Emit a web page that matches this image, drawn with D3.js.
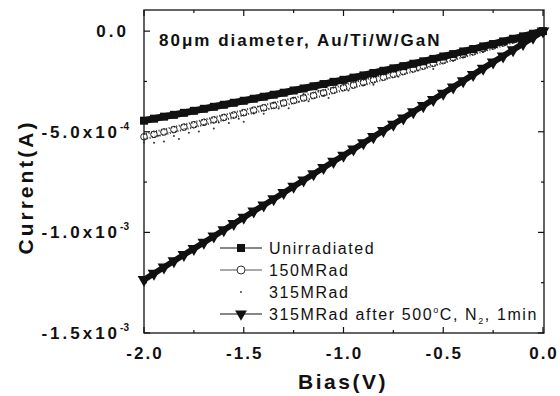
<!DOCTYPE html>
<html>
<head>
<meta charset="utf-8">
<script src="https://cdn.jsdelivr.net/npm/d3@7"></script>
<style>
  body { margin: 0; background: #fff; }
  text { font-family: "Liberation Sans", Arial, sans-serif; fill: #111; }
</style>
</head>
<body>
<div id="chart"></div>
<script>
// Bias grid (V) for the three marker series
const bias = [-2.00, -1.95, -1.90, -1.85, -1.80, -1.75, -1.70, -1.65, -1.60, -1.55,
  -1.50, -1.45, -1.40, -1.35, -1.30, -1.25, -1.20, -1.15, -1.10, -1.05,
  -1.00, -0.95, -0.90, -0.85, -0.80, -0.75, -0.70, -0.65, -0.60, -0.55,
  -0.50, -0.45, -0.40, -0.35, -0.30, -0.25, -0.20, -0.15, -0.10, -0.05, 0.00];

// Current in units of 1e-4 A
const unirradiated = [-4.45, -4.35, -4.25, -4.16, -4.06, -3.96, -3.86, -3.76, -3.66, -3.56,
  -3.46, -3.36, -3.26, -3.16, -3.06, -2.95, -2.85, -2.74, -2.63, -2.52,
  -2.42, -2.31, -2.20, -2.08, -1.97, -1.85, -1.74, -1.62, -1.50, -1.38,
  -1.26, -1.14, -1.01, -0.89, -0.76, -0.64, -0.51, -0.38, -0.26, -0.13, 0.00];

const mrad150 = [-5.25, -5.13, -5.01, -4.89, -4.77, -4.65, -4.53, -4.41, -4.29, -4.17,
  -4.05, -3.93, -3.81, -3.69, -3.57, -3.45, -3.32, -3.20, -3.07, -2.94,
  -2.81, -2.68, -2.55, -2.42, -2.29, -2.15, -2.01, -1.88, -1.74, -1.60,
  -1.46, -1.32, -1.17, -1.03, -0.88, -0.74, -0.59, -0.44, -0.30, -0.15, 0.00];

const annealed = [-12.35, -12.04, -11.73, -11.42, -11.11, -10.81, -10.50, -10.19, -9.88, -9.57,
  -9.26, -8.95, -8.65, -8.34, -8.03, -7.72, -7.41, -7.10, -6.79, -6.48,
  -6.18, -5.87, -5.56, -5.25, -4.94, -4.63, -4.32, -4.01, -3.71, -3.40,
  -3.09, -2.78, -2.47, -2.16, -1.85, -1.54, -1.24, -0.93, -0.62, -0.31, 0.00];

// 315MRad was sampled on a finer grid (scattered dots)
const biasFine = [-2.000, -1.975, -1.950, -1.925, -1.900, -1.875, -1.850, -1.825, -1.800, -1.775,
  -1.750, -1.725, -1.700, -1.675, -1.650, -1.625, -1.600, -1.575, -1.550, -1.525,
  -1.500, -1.475, -1.450, -1.425, -1.400, -1.375, -1.350, -1.325, -1.300, -1.275,
  -1.250, -1.225, -1.200, -1.175, -1.150, -1.125, -1.100, -1.075, -1.050, -1.025,
  -1.000, -0.975, -0.950, -0.925, -0.900, -0.875, -0.850, -0.825, -0.800, -0.775,
  -0.750, -0.725, -0.700, -0.675, -0.650, -0.625, -0.600, -0.575, -0.550, -0.525,
  -0.500, -0.475, -0.450, -0.425, -0.400, -0.375, -0.350, -0.325, -0.300, -0.275,
  -0.250, -0.225, -0.200, -0.175, -0.150, -0.125, -0.100, -0.075, -0.050, -0.025, 0.000];

const mrad315 = [-5.54, -5.22, -5.55, -5.19, -5.49, -5.00, -5.21, -5.36, -4.82, -5.05,
  -4.62, -4.99, -4.67, -4.44, -4.84, -4.54, -4.29, -4.56, -4.12, -4.35,
  -4.50, -3.97, -4.09, -3.76, -4.11, -3.82, -3.57, -3.85, -3.56, -3.83,
  -3.32, -3.51, -3.12, -3.48, -3.19, -2.96, -3.21, -3.32, -2.81, -2.93,
  -2.60, -2.95, -2.66, -2.42, -2.69, -2.23, -2.66, -2.29, -2.06, -2.31,
  -1.98, -2.27, -1.76, -1.96, -1.73, -1.96, -1.53, -1.74, -1.88, -1.35,
  -1.51, -1.17, -1.47, -1.14, -1.29, -0.88, -1.05, -0.82, -1.04, -0.65,
  -0.82, -0.53, -0.64, -0.43, -0.49, -0.28, -0.32, -0.17, -0.18, -0.05, 0.00];

const xTicks = [-2.0, -1.5, -1.0, -0.5, 0.0];
const xTickLabels = ["-2.0", "-1.5", "-1.0", "-0.5", "0.0"];
const yTicks = [0, -5, -10, -15];
const yTickLabels = [["0.0", ""], ["-5.0x10", "-4"], ["-1.0x10", "-3"], ["-1.5x10", "-3"]];
const legendLabels = ["Unirradiated", "150MRad", "315MRad", "315MRad after 500°C, N2, 1min"];

const W = 560, H = 396;
const margin = { top: 10, right: 16, bottom: 63, left: 144 };
const width = W - margin.left - margin.right;
const height = H - margin.top - margin.bottom;

const svg = d3.select('#chart').append('svg')
  .attr('width', W).attr('height', H);
const g = svg.append('g').attr('transform', `translate(${margin.left},${margin.top})`);

const x = d3.scaleLinear().domain([-2, 0.005]).range([0, width]);
const y = d3.scaleLinear().domain([-15, 1.05]).range([height, 0]);

const ink = '#111';

// Frame
g.append('rect').attr('width', width).attr('height', height)
  .attr('fill', 'none').attr('stroke', ink).attr('stroke-width', 1.3);

// Inward ticks on all four sides
const xMinor = d3.range(-2, 0.01, 0.25);
const yMinor = d3.range(-15, 0.01, 2.5);
const tick = (sel) => sel.attr('stroke', ink).attr('stroke-width', 1.2);
xMinor.forEach(v => {
  const len = xTicks.includes(v) ? 6 : 3;
  tick(g.append('line').attr('x1', x(v)).attr('x2', x(v)).attr('y1', height).attr('y2', height - len));
  tick(g.append('line').attr('x1', x(v)).attr('x2', x(v)).attr('y1', 0).attr('y2', len));
});
yMinor.forEach(v => {
  const len = yTicks.includes(v) ? 6 : 3;
  tick(g.append('line').attr('y1', y(v)).attr('y2', y(v)).attr('x1', 0).attr('x2', len));
  tick(g.append('line').attr('y1', y(v)).attr('y2', y(v)).attr('x1', width).attr('x2', width - len));
});

// Tick labels
g.selectAll('.xl').data(xTicks).enter().append('text')
  .attr('x', (d, i) => x(d) + 1)
  .attr('y', height + 26)
  .attr('text-anchor', 'middle')
  .style('font-size', '17px').style('font-weight', 'bold').style('letter-spacing', '2px')
  .text((d, i) => xTickLabels[i]);

yTicks.forEach((v, i) => {
  const t = g.append('text')
    .attr('x', -15).attr('y', y(v) + 6)
    .attr('text-anchor', 'end')
    .style('font-size', '17px').style('font-weight', 'bold').style('letter-spacing', '3px');
  t.append('tspan').text(yTickLabels[i][0]);
  if (yTickLabels[i][1]) {
    t.append('tspan').attr('dy', -8).style('font-size', '10px').style('letter-spacing', '0px')
      .text(yTickLabels[i][1]);
  }
});

// Axis titles
svg.append('text')
  .attr('x', 343).attr('y', 389)
  .attr('text-anchor', 'middle')
  .style('font-size', '21px').style('font-weight', 'bold').style('letter-spacing', '2.5px')
  .text('Bias(V)');
svg.append('text')
  .attr('transform', 'translate(33,187) rotate(-90)')
  .attr('text-anchor', 'middle')
  .style('font-size', '21px').style('font-weight', 'bold').style('letter-spacing', '3px')
  .text('Current(A)');

// In-plot title
g.append('text')
  .attr('x', 15).attr('y', 36)
  .style('font-size', '17px').style('font-weight', 'bold').style('letter-spacing', '2px')
  .text('80μm diameter, Au/Ti/W/GaN');

const line = d3.line().x(d => x(d[0])).y(d => y(d[1]));
const pairs = (xs, ys) => xs.map((v, i) => [v, ys[i]]);

// 315MRad: scattered dots
g.append('g').selectAll('circle').data(pairs(biasFine, mrad315)).enter().append('circle')
  .attr('cx', d => x(d[0])).attr('cy', d => y(d[1]))
  .attr('r', 1).attr('fill', '#333');

// 150MRad: dense chain of open circles (hatched band)
g.append('path').datum(pairs(bias, mrad150))
  .attr('fill', 'none').attr('stroke', '#333').attr('stroke-width', 7)
  .attr('stroke-dasharray', '1 1.6').attr('d', line);
g.append('path').datum(pairs(bias, mrad150))
  .attr('fill', 'none').attr('stroke', '#fff').attr('stroke-width', 3).attr('d', line);
g.append('g').selectAll('circle').data(pairs(bias, mrad150)).enter().append('circle')
  .attr('cx', d => x(d[0])).attr('cy', d => y(d[1]))
  .attr('r', 3.3).attr('fill', 'none').attr('stroke', '#222').attr('stroke-width', 1);

// Unirradiated: solid squares
g.append('path').datum(pairs(bias, unirradiated))
  .attr('fill', 'none').attr('stroke', ink).attr('stroke-width', 7).attr('d', line);
g.append('g').selectAll('rect').data(pairs(bias, unirradiated)).enter().append('rect')
  .attr('x', d => x(d[0]) - 4).attr('y', d => y(d[1]) - 4)
  .attr('width', 8).attr('height', 8).attr('fill', ink);

// Annealed: solid down triangles
const tri = d3.symbol().type(d3.symbolTriangle).size(70);
g.append('path').datum(pairs(bias, annealed))
  .attr('fill', 'none').attr('stroke', ink).attr('stroke-width', 6).attr('d', line);
g.append('g').selectAll('path').data(pairs(bias, annealed)).enter().append('path')
  .attr('d', tri)
  .attr('transform', d => `translate(${x(d[0])},${y(d[1])}) rotate(180)`)
  .attr('fill', ink);

// Legend
const legendY = [248, 270, 292, 314];
const lg = svg.append('g');
legendLabels.forEach((label, i) => {
  const ly = legendY[i];
  if (i !== 2) {
    lg.append('line').attr('x1', 220).attr('x2', 262).attr('y1', ly).attr('y2', ly)
      .attr('stroke', i === 1 ? '#555' : ink).attr('stroke-width', 1.2);
  }
  if (i === 0) {
    lg.append('rect').attr('x', 237).attr('y', ly - 4).attr('width', 8).attr('height', 8).attr('fill', ink);
  } else if (i === 1) {
    lg.append('circle').attr('cx', 241).attr('cy', ly).attr('r', 4)
      .attr('fill', '#fff').attr('stroke', '#333').attr('stroke-width', 1);
  } else if (i === 2) {
    lg.append('circle').attr('cx', 241).attr('cy', ly).attr('r', 0.9).attr('fill', '#333');
  } else {
    lg.append('path').attr('d', d3.symbol().type(d3.symbolTriangle).size(60))
      .attr('transform', `translate(241,${ly}) rotate(180)`).attr('fill', ink);
  }
  const t = lg.append('text').attr('x', 269).attr('y', ly + 6)
    .style('font-size', '16px').style('letter-spacing', '1.6px');
  if (i === 3) {
    t.append('tspan').text('315MRad after 500');
    t.append('tspan').attr('dy', -7).style('font-size', '9px').text('o');
    t.append('tspan').attr('dy', 7).text('C, N');
    t.append('tspan').attr('dy', 4).style('font-size', '9px').text('2');
    t.append('tspan').attr('dy', -4).text(', 1min');
  } else {
    t.text(label);
  }
});
</script>
</body>
</html>
